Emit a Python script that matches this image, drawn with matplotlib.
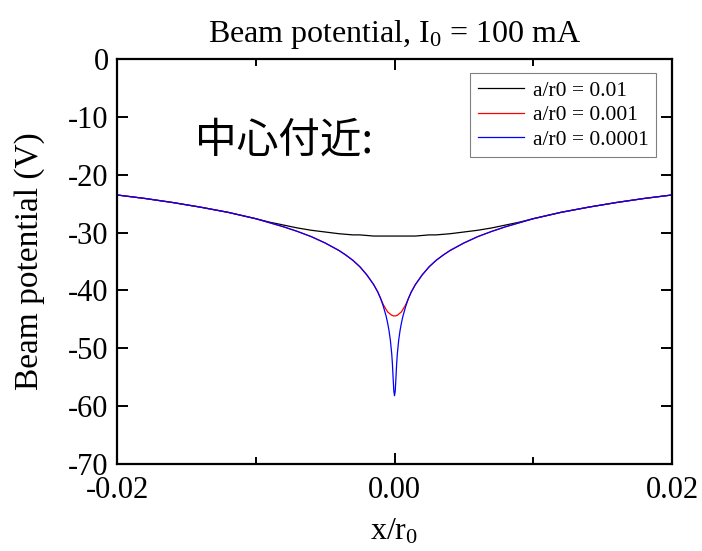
import matplotlib
matplotlib.use("Agg")
import matplotlib.pyplot as plt

plt.rcParams['font.family'] = ['Liberation Serif', 'DejaVu Serif']
plt.rcParams['mathtext.fontset'] = 'custom'
plt.rcParams['mathtext.rm'] = 'Liberation Serif'
plt.rcParams['axes.unicode_minus'] = False

# x/r0 positions
x_pos = [-0.02, -0.018, -0.016, -0.014, -0.012, -0.01, -0.009, -0.008, -0.007,
         -0.006, -0.005, -0.004, -0.0035, -0.003, -0.0025, -0.002, -0.0015,
         -0.0012, -0.001, -0.0008, -0.0006, -0.0005, -0.0004, -0.0003, -0.0002,
         -0.00015, -0.0001, -0.00005, 0.0,
         0.00005, 0.0001, 0.00015, 0.0002, 0.0003, 0.0004, 0.0005, 0.0006,
         0.0008, 0.001, 0.0012, 0.0015, 0.002, 0.0025, 0.003, 0.0035, 0.004,
         0.005, 0.006, 0.007, 0.008, 0.009, 0.01, 0.012, 0.014, 0.016, 0.018, 0.02]

# beam potential (V), a/r0 = 0.01
pot_001 = [-23.5, -24.1, -24.8, -25.6, -26.5, -27.6, -28.2, -28.7, -29.2,
           -29.6, -29.9, -30.2, -30.3, -30.4, -30.4, -30.5, -30.6,
           -30.6, -30.6, -30.6, -30.6, -30.6, -30.6, -30.6, -30.6,
           -30.6, -30.6, -30.6, -30.6,
           -30.6, -30.6, -30.6, -30.6, -30.6, -30.6, -30.6, -30.6,
           -30.6, -30.6, -30.6, -30.6, -30.5, -30.4, -30.4, -30.3, -30.2,
           -29.9, -29.6, -29.2, -28.7, -28.2, -27.6, -26.5, -25.6, -24.8, -24.1, -23.5]

# a/r0 = 0.001
pot_0001 = [-23.5, -24.1, -24.8, -25.6, -26.5, -27.6, -28.3, -29.0, -29.8,
            -30.7, -31.8, -33.1, -33.9, -34.8, -35.9, -37.3, -39.0,
            -40.3, -41.4, -42.5, -43.3, -43.7, -43.9, -44.1, -44.3,
            -44.3, -44.4, -44.4, -44.4,
            -44.4, -44.4, -44.3, -44.3, -44.1, -43.9, -43.7, -43.3,
            -42.5, -41.4, -40.3, -39.0, -37.3, -35.9, -34.8, -33.9, -33.1,
            -31.8, -30.7, -29.8, -29.0, -28.3, -27.6, -26.5, -25.6, -24.8, -24.1, -23.5]

# a/r0 = 0.0001
pot_00001 = [-23.5, -24.1, -24.8, -25.6, -26.5, -27.6, -28.3, -29.0, -29.8,
             -30.7, -31.8, -33.1, -33.9, -34.8, -35.9, -37.3, -39.0,
             -40.3, -41.4, -42.8, -44.5, -45.6, -46.9, -48.6, -51.0,
             -52.8, -55.2, -57.4, -58.2,
             -57.4, -55.2, -52.8, -51.0, -48.6, -46.9, -45.6, -44.5,
             -42.8, -41.4, -40.3, -39.0, -37.3, -35.9, -34.8, -33.9, -33.1,
             -31.8, -30.7, -29.8, -29.0, -28.3, -27.6, -26.5, -25.6, -24.8, -24.1, -23.5]

labels = ["a/r0 = 0.01", "a/r0 = 0.001", "a/r0 = 0.0001"]

fig = plt.figure(figsize=(7.02, 5.51), dpi=100)
ax = fig.add_axes([0.1667, 0.1579, 0.7906, 0.735])

ax.plot(x_pos, pot_001, color='black', lw=0.9, label=labels[0])
ax.plot(x_pos, pot_0001, color='red', lw=0.9, label=labels[1])
ax.plot(x_pos, pot_00001, color='blue', lw=0.9, label=labels[2])

ax.set_xlim(-0.02, 0.02)
ax.set_ylim(-70, 0)
ax.set_xticks([-0.02, 0.0, 0.02])
ax.set_xticklabels(["-0.02", "0.00", "0.02"])
ax.set_xticks([-0.01, 0.01], minor=True)
ax.set_yticks(range(-70, 1, 10))

for s in ax.spines.values():
    s.set_linewidth(1.6)
ax.tick_params(which='both', direction='in', top=True, right=True,
               labelsize=22, width=1.4)
ax.tick_params(which='major', length=8)
ax.tick_params(which='minor', length=5)
ax.tick_params(axis='x', pad=9)
ax.tick_params(axis='y', pad=6)

ax.set_title(r"Beam potential, $\mathregular{I_0}$ = 100 mA", fontsize=23, pad=12)
ax.set_xlabel(r"x/$\mathregular{r_0}$", fontsize=23, labelpad=8)
ax.set_ylabel("Beam potential (V)", fontsize=24, labelpad=17)

leg = ax.legend(loc='upper right', bbox_to_anchor=(0.971, 0.965),
                borderaxespad=0, fontsize=15.5, handlelength=2.15,
                handletextpad=0.4, labelspacing=0.2, borderpad=0.35,
                fancybox=False, edgecolor='gray', framealpha=1)
leg.get_frame().set_linewidth(0.8)

ax.text(0.141, 0.797, "中心付近:", transform=ax.transAxes, fontsize=30,
        va='center', ha='left', family=['Noto Sans CJK JP', 'DejaVu Sans'])

fig.savefig("out.png", dpi=100)
